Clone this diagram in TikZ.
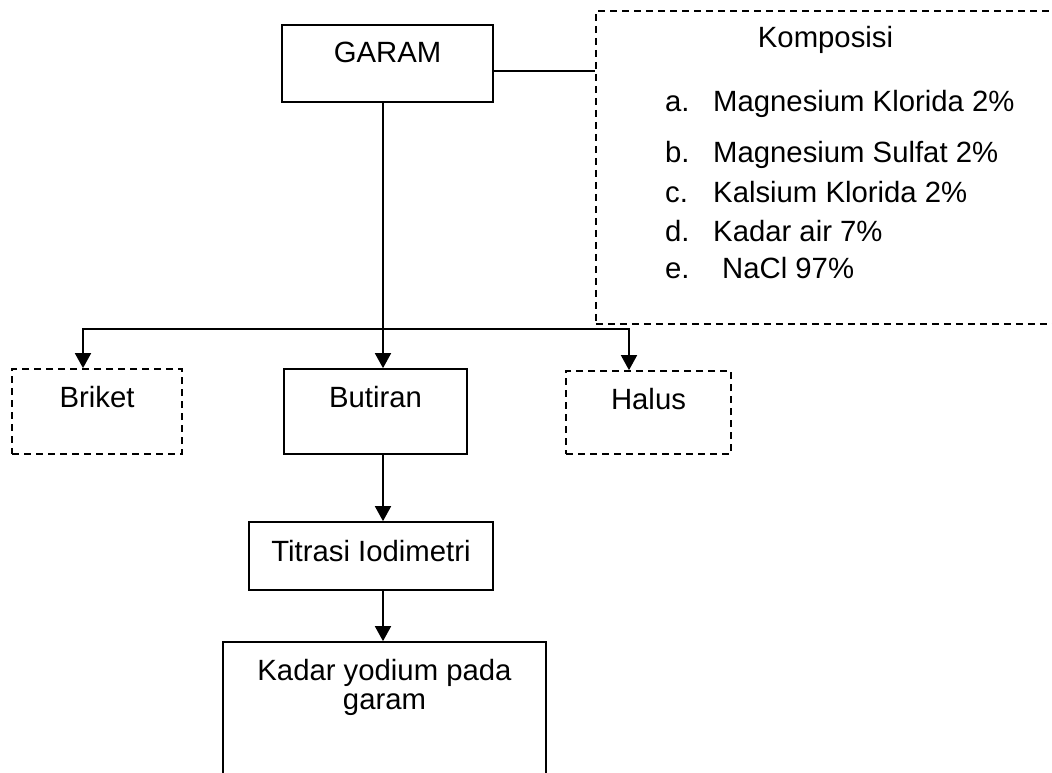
\documentclass[tikz,border=0pt]{standalone}
\usepackage{fontspec}
\setmainfont{Liberation Sans}
\usetikzlibrary{arrows.meta}

\begin{document}
\begin{tikzpicture}[x=1pt, y=-1pt,
    font=\fontsize{29.3}{29}\selectfont,
    every node/.style={inner sep=0pt},
    garis/.style={line width=1.7pt},
    kotak/.style={draw, garis, anchor=base},
    putus/.style={kotak, dash pattern=on 7pt off 5pt},
    panah/.style={garis, -{Triangle[width=16pt,length=15pt]}}]
  \useasboundingbox (0,0) rectangle (1052,773);
  \clip (0,0) rectangle (1052,773);
  % kotak
  \node[kotak, minimum width=211pt, text height=38pt, text depth=39pt] (garam) at (387.5,63) {GARAM};
  \node[putus, anchor=north west, minimum width=520pt, minimum height=313pt] (komposisi) at (595,10) {};
  \node[putus, minimum width=170pt, text height=38pt, text depth=47pt] (briket) at (97,407) {Briket};
  \node[kotak, minimum width=183pt, text height=38pt, text depth=47pt] (butiran) at (375.5,407) {Butiran};
  \node[putus, minimum width=165pt, text height=38pt, text depth=45pt] (halus) at (648.5,409) {Halus};
  \node[kotak, minimum width=244pt, text height=39pt, text depth=29pt] (titrasi) at (371,561) {Titrasi Iodimetri};
  \node[kotak, align=center, minimum width=323pt, text height=67pt, text depth=91pt] (kadar) at (384.5,709) {Kadar yodium pada\\garam};
  % isi komposisi
  \node[anchor=base] (judul) at (825.5,47.7) {Komposisi};
  \foreach \n/\isi/\y/\x in {a/Magnesium Klorida 2\%/112/713, b/Magnesium Sulfat 2\%/163/713,
      c/Kalsium Klorida 2\%/202/713, d/Kadar air 7\%/241/713, e/NaCl 97\%/278/722}{
    \node[anchor=base west] (huruf-\n) at (665,\y) {\n.};
    \node[anchor=base west] (isi-\n) at (\x,\y) {\isi};
  }
  % garis
  \coordinate (tulang) at (383,0);
  \coordinate (cabang) at (383,329);
  \draw[garis, line width=1.3pt] ([yshift=-7.5pt]garam.east) coordinate (g) -- (g -| komposisi.west);
  \draw[panah] (garam.south -| tulang) -- (butiran.north -| tulang);
  \draw[panah] (cabang) -| ([xshift=-14pt]briket.north);
  \draw[panah] (cabang) -| ([xshift=-19.5pt]halus.north);
  \draw[panah] (butiran.south -| tulang) -- (titrasi.north -| tulang);
  \draw[panah] (titrasi.south -| tulang) -- (kadar.north -| tulang);
\end{tikzpicture}
\end{document}
